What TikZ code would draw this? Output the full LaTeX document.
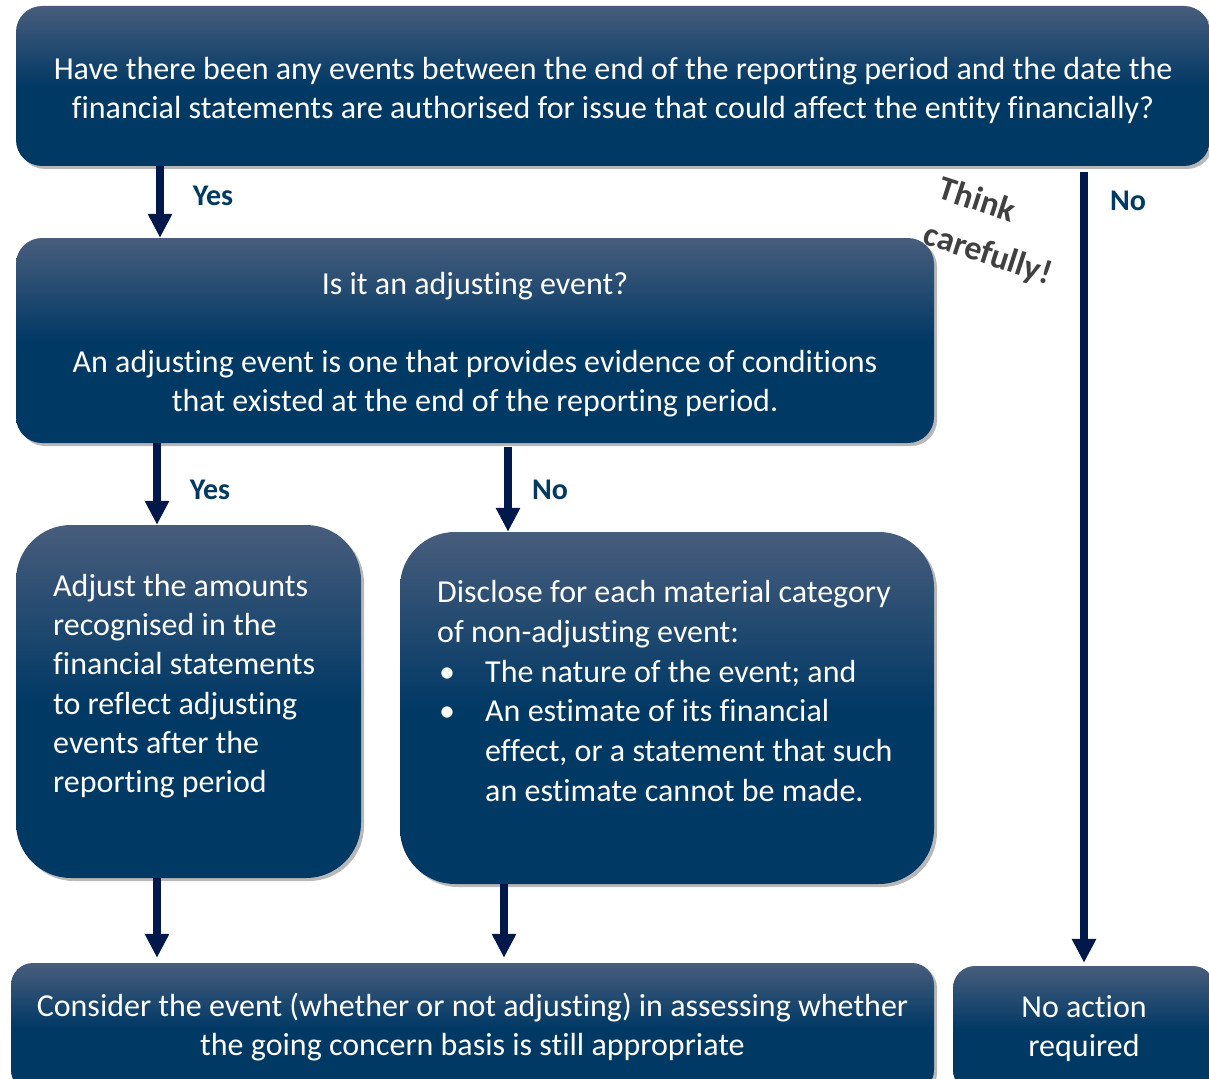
\documentclass[tikz,border=0pt]{standalone}
\usepackage{fontspec}
\setmainfont[Ligatures=CommonOff]{Carlito}
\usetikzlibrary{arrows.meta,shadows}

\definecolor{boxdark}{RGB}{1,57,101}
\definecolor{boxlight}{RGB}{72,93,124}
\definecolor{arrowc}{RGB}{0,24,74}
\definecolor{labelc}{RGB}{0,58,96}
\definecolor{notec}{RGB}{64,64,64}

% light at the top, full navy from the middle down
\pgfdeclareverticalshading{boxshade}{100bp}{color(0bp)=(boxdark); color(50bp)=(boxdark); color(75bp)=(boxlight); color(100bp)=(boxlight)}

% taller first line so centred text sits on its line boxes
\newcommand{\firststrut}{\rule{0pt}{31pt}}

\tikzset{
  flowbox/.style={rounded corners=#1, shade, shading=boxshade,
    drop shadow={shadow xshift=3pt, shadow yshift=-3pt, opacity=0.28, fill=black},
    inner sep=0pt, text=white, align=center,
    font=\fontsize{32}{39}\selectfont},
  flowbox/.default=26pt,
  boxtext/.style={text=white, align=left, inner sep=0pt, anchor=north west,
    font=\fontsize{32}{#1}\selectfont},
  boxtext/.default=39.2,
  arr/.style={draw=arrowc, line width=7.5pt,
    -{Triangle[width=23pt,length=24pt]}},
  lbl/.style={text=labelc, font=\bfseries\fontsize{30}{34}\selectfont, inner sep=0pt},
}

\begin{document}
\begin{tikzpicture}[x=1pt,y=-1pt]
\useasboundingbox (0,0) rectangle (1209,1078);
\clip (0,0) rectangle (1209,1078);

% boxes
\node[flowbox, minimum width=1194pt, minimum height=160pt] (q1) at (613,86)
  {\firststrut Have there been any events between the end of the reporting period and the date the\\
   financial statements are authorised for issue that could affect the entity financially?};

\node[flowbox, minimum width=918pt, minimum height=205pt] (q2) at (475,340.5)
  {\firststrut Is it an adjusting event?\\[39pt]
   An adjusting event is one that provides evidence of conditions\\
   that existed at the end of the reporting period.};

\node[flowbox=55pt, minimum width=345pt, minimum height=353pt] (adj) at (188.5,701.5) {};
\node[boxtext] (adjtext) at (53,574)
  {Adjust the amounts\\ recognised in the\\ financial statements\\ to reflect adjusting\\
   events after the\\ reporting period};

\node[flowbox=55pt, minimum width=534pt, minimum height=352pt] (disc) at (667,708) {};
\node[boxtext=39.8] (disctext) at (437,580)
  {Disclose for each material category\\
   of non-adjusting event:\\
   \makebox[48pt][l]{\hspace*{2pt}\textbullet}The nature of the event; and\\
   \makebox[48pt][l]{\hspace*{2pt}\textbullet}An estimate of its financial\\
   \hspace*{48pt}effect, or a statement that such\\
   \hspace*{48pt}an estimate cannot be made.};

\node[flowbox=22pt, minimum width=923pt, minimum height=129pt] (gc) at (472.5,1027.5)
  {Consider the event (whether or not adjusting) in assessing whether\\
   the going concern basis is still appropriate};

\node[flowbox=22pt, minimum width=262pt, minimum height=126pt] (none) at (1084,1029)
  {No action\\ required};

% arrow columns
\coordinate (cola) at (160,0);
\coordinate (colb) at (157,0);
\coordinate (colc) at (508,0);
\coordinate (cold) at (504,0);
\coordinate (cole) at (1084,0);

% connectors
\draw[arr] (q1.south -| cola) -- (q2.north -| cola);
\draw[arr, shorten <=6pt, shorten >=3pt] (q1.south -| cole) -- (none.north -| cole);
\draw[arr] (q2.south -| colb) -- (adj.north -| colb);
\draw[arr, shorten <=4pt] (q2.south -| colc) -- (disc.north -| colc);
\draw[arr, shorten >=5pt] (adj.south -| colb) -- (gc.north -| colb);
\draw[arr, shorten >=5pt] (disc.south -| cold) -- (gc.north -| cold);

% connector labels
\node[lbl] (yes1) at (213,196) {Yes};
\node[lbl] (no1) at (1128,201) {No};
\node[lbl] (yes2) at (210,490) {Yes};
\node[lbl] (no2) at (550,490) {No};

% side note
\node[text=notec, font=\bfseries\fontsize{34}{48}\selectfont, align=left,
  inner sep=0pt, rotate=-18, anchor=north west] (note) at (944,175)
  {Think\\ carefully!};
\end{tikzpicture}
\end{document}
